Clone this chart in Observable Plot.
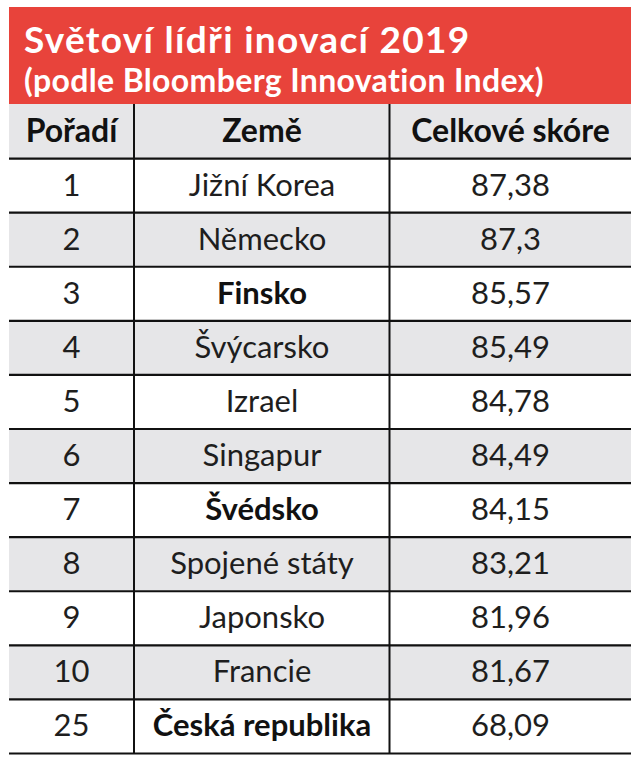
<!DOCTYPE html>
<html>
<head>
<meta charset="utf-8">
<script src="https://cdn.jsdelivr.net/npm/d3@7"></script>
<script src="https://cdn.jsdelivr.net/npm/@observablehq/plot@0.6"></script>
<style>
  html, body { margin: 0; padding: 0; background: #fff; }
  body { width: 643px; height: 768px; overflow: hidden; font-family: Lato, "Open Sans", sans-serif; }
  #title {
    position: relative; margin: 7px 12px 0 9px; height: 97px;
    background: #e8433b; color: #fff; font-weight: 700;
  }
  #title .l1 { position: absolute; left: 15px; top: 13px; font-size: 37px; line-height: 37px; letter-spacing: 1.3px; white-space: nowrap; }
  #title .l2 { position: absolute; left: 15px; top: 57px; font-size: 32px; line-height: 32px; letter-spacing: 0.35px; white-space: nowrap; }
  #chart svg { display: block; }
</style>
</head>
<body>
<div id="title">
  <div class="l1">Světoví lídři inovací 2019</div>
  <div class="l2">(podle Bloomberg Innovation Index)</div>
</div>
<div id="chart"></div>
<script>
// ---- data ----
const headers = ["Pořadí", "Země", "Celkové skóre"];
const ranks = [1, 2, 3, 4, 5, 6, 7, 8, 9, 10, 25];
const countries = ["Jižní Korea", "Německo", "Finsko", "Švýcarsko", "Izrael", "Singapur", "Švédsko", "Spojené státy", "Japonsko", "Francie", "Česká republika"];
const scores = [87.38, 87.3, 85.57, 85.49, 84.78, 84.49, 84.15, 83.21, 81.96, 81.67, 68.09];
const highlighted = ["Finsko", "Švédsko", "Česká republika"];

// ---- layout ----
const W = 622;                       // table width (px units on x scale)
const colEdges = [0, 124.5, 380, W]; // column boundaries
const colCenters = [62, 252.5, 501];
const gray = "#e6e6e8";

const rows = ranks.map((r, i) => ({
  idx: i + 1,
  rank: String(r),
  country: countries[i],
  score: String(scores[i]).replace(".", ","),
  bold: highlighted.includes(countries[i])
}));
const nRows = rows.length + 1;

const bgRows = [{idx: 0, fill: gray}, ...rows.map(d => ({idx: d.idx, fill: d.idx % 2 === 0 ? gray : "#ffffff"}))];

const headerCells = headers.map((h, j) => ({text: h, col: j}));
const bodyCells = rows.flatMap(d => [
  {idx: d.idx, col: 0, text: d.rank, bold: false},
  {idx: d.idx, col: 1, text: d.country, bold: d.bold},
  {idx: d.idx, col: 2, text: d.score, bold: false}
]);

const chart = Plot.plot({
  width: 643,
  height: 664,
  marginLeft: 9,
  marginRight: 12,
  marginTop: 0,
  marginBottom: 15,
  x: {type: "linear", domain: [0, W], axis: null},
  y: {type: "linear", domain: [0, nRows], reverse: true, axis: null},
  style: {fontFamily: "Lato, 'Open Sans', sans-serif", background: "transparent"},
  marks: [
    Plot.rect(bgRows, {x1: 0, x2: W, y1: "idx", y2: d => d.idx + 1, fill: "fill"}),
    Plot.ruleY(d3.range(1, nRows + 1), {x1: 0, x2: W, stroke: "#111", strokeWidth: 2.2}),
    Plot.ruleX(colEdges.slice(1, -1), {y1: 0, y2: nRows, stroke: "#111", strokeWidth: 2}),
    Plot.text(headerCells, {
      x: d => colCenters[d.col], y: 0.5, text: "text",
      fontSize: 32, fontWeight: 700, fill: "#111", lineAnchor: "middle", textAnchor: "middle"
    }),
    Plot.text(bodyCells.filter(d => !d.bold), {
      x: d => colCenters[d.col], y: d => d.idx + 0.5, text: "text",
      fontSize: 31, fontWeight: 400, fill: "#1e1e1e", lineAnchor: "middle", textAnchor: "middle"
    }),
    Plot.text(bodyCells.filter(d => d.bold), {
      x: d => colCenters[d.col], y: d => d.idx + 0.5, text: "text",
      fontSize: 31, fontWeight: 700, fill: "#111", lineAnchor: "middle", textAnchor: "middle"
    })
  ]
});
document.getElementById("chart").appendChild(chart);
</script>
</body>
</html>
